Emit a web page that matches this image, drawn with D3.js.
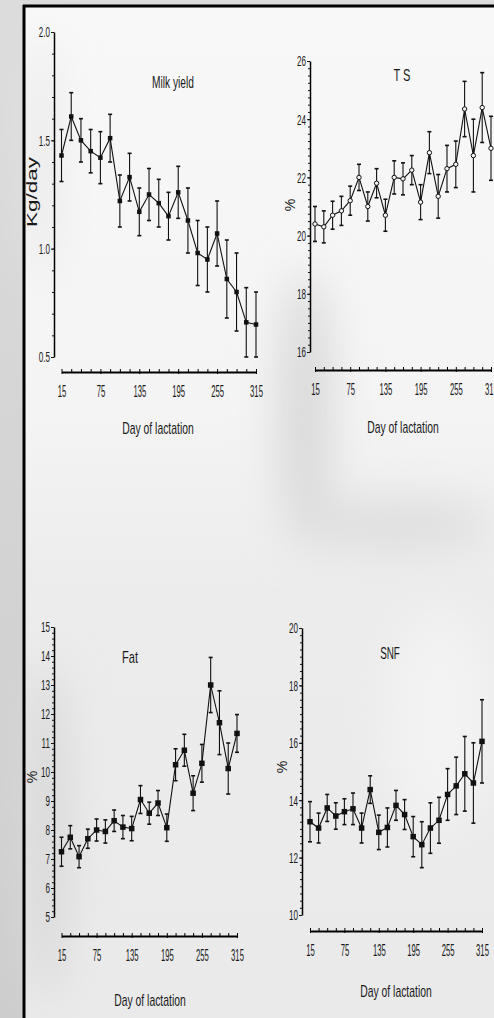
<!DOCTYPE html>
<html><head><meta charset="utf-8">
<script src="https://cdn.jsdelivr.net/npm/d3@7/dist/d3.min.js"></script>
<style>
html,body{margin:0;padding:0;background:#e8e8e8;}
svg{display:block;}
.tl{font-family:"Liberation Sans",Arial,sans-serif;fill:#1a1a1a;}
.ttl{font-family:"Liberation Sans",Arial,sans-serif;font-size:17px;fill:#1a1a1a;}
.yl{font-family:"Liberation Sans",Arial,sans-serif;fill:#1a1a1a;}
</style></head>
<body>
<script>
// ---------- data ----------
const days = [15,30,45,60,75,90,105,120,135,150,165,180,195,210,225,240,255,270,285,300,315];
const xTickLabels = [15,75,135,195,255,315];

const milkMean = [1.43,1.61,1.50,1.45,1.42,1.51,1.22,1.33,1.17,1.25,1.21,1.15,1.26,1.13,0.98,0.95,1.07,0.86,0.80,0.66,0.65];
const milkSE   = [0.12,0.11,0.10,0.10,0.12,0.11,0.12,0.11,0.11,0.12,0.11,0.11,0.12,0.15,0.15,0.15,0.15,0.18,0.18,0.16,0.15];
const milkTicks = [0.5,1.0,1.5,2.0];

const tsMean = [20.4,20.3,20.7,20.85,21.2,22.0,21.0,21.8,20.7,22.0,21.95,22.25,21.15,22.85,21.35,22.3,22.45,24.35,22.75,24.4,23.0];
const tsSE   = [0.6,0.55,0.48,0.5,0.5,0.45,0.5,0.5,0.55,0.57,0.55,0.5,0.6,0.72,0.75,0.8,0.8,0.95,1.25,1.2,1.1];
const tsTicks = [16,18,20,22,24,26];

const fatMean = [7.25,7.75,7.08,7.7,8.0,7.95,8.32,8.1,8.05,9.05,8.58,8.93,8.08,10.25,10.75,9.27,10.3,13.0,11.7,10.12,11.33];
const fatSE   = [0.5,0.4,0.38,0.33,0.38,0.4,0.37,0.4,0.42,0.48,0.38,0.43,0.47,0.55,0.55,0.6,0.65,0.95,1.1,0.88,0.65];
const fatTicks = [5,6,7,8,9,10,11,12,13,14,15];

const snfMean = [13.25,13.03,13.73,13.45,13.6,13.7,13.03,14.37,12.88,13.05,13.82,13.5,12.73,12.45,13.03,13.3,14.2,14.5,14.92,14.6,16.05];
const snfSE   = [0.7,0.52,0.47,0.46,0.45,0.55,0.52,0.48,0.6,0.68,0.52,0.52,0.7,0.8,0.88,0.8,0.9,1.0,1.3,1.4,1.45];
const snfTicks = [10,12,14,16,18,20];

const W = 494, H = 1018;
const svg = d3.select("body").append("svg").attr("width", W).attr("height", H);

// horizontally condense a text element (narrow font look)
function squeeze(sel, f){
  sel.each(function(){
    const w = this.getComputedTextLength();
    d3.select(this).attr("textLength", w*f).attr("lengthAdjust","spacingAndGlyphs");
  });
}

// ---------- background ----------
const defs = svg.append("defs");
defs.append("filter").attr("id","blur").attr("x","-50%").attr("y","-50%").attr("width","200%").attr("height","200%")
  .append("feGaussianBlur").attr("stdDeviation", 22);
const lg = defs.append("linearGradient").attr("id","leftg").attr("x1",0).attr("y1",0).attr("x2",0).attr("y2",1);
lg.append("stop").attr("offset","0%").attr("stop-color","#dcdcdc");
lg.append("stop").attr("offset","50%").attr("stop-color","#d4d4d4");
lg.append("stop").attr("offset","100%").attr("stop-color","#cdcdcd");
const mg = defs.append("linearGradient").attr("id","maing").attr("x1",0).attr("y1",0).attr("x2",0).attr("y2",1);
mg.append("stop").attr("offset","0%").attr("stop-color","#f8f8f8");
mg.append("stop").attr("offset","40%").attr("stop-color","#f4f4f4");
mg.append("stop").attr("offset","58%").attr("stop-color","#ececec");
mg.append("stop").attr("offset","100%").attr("stop-color","#eaeaea");

svg.append("rect").attr("width",W).attr("height",H).attr("fill","url(#leftg)");
svg.append("rect").attr("x",24).attr("y",6).attr("width",W-24).attr("height",H-6).attr("fill","url(#maing)");
const bg = svg.append("g").attr("filter","url(#blur)");
bg.append("ellipse").attr("cx",305).attr("cy",410).attr("rx",26).attr("ry",140).attr("fill","#d8d8d8");
bg.append("ellipse").attr("cx",395).attr("cy",525).attr("rx",100).attr("ry",26).attr("fill","#dedede");
bg.append("ellipse").attr("cx",45).attr("cy",830).attr("rx",24).attr("ry",170).attr("fill","#d8d8d8");
bg.append("ellipse").attr("cx",440).attr("cy",720).attr("rx",55).attr("ry",110).attr("fill","#f3f3f3");
bg.append("ellipse").attr("cx",40).attr("cy",160).attr("rx",14).attr("ry",120).attr("fill","#e6e6e6");
// frame
svg.append("line").attr("x1",24).attr("x2",24).attr("y1",5).attr("y2",H).attr("stroke","#000").attr("stroke-width",3);
svg.append("line").attr("x1",23).attr("x2",W).attr("y1",6).attr("y2",6).attr("stroke","#000").attr("stroke-width",3);

// ---------- panels ----------
function panel(c){
  const g = svg.append("g");
  const x = d3.scaleLinear().domain([15,315]).range(c.xr);
  const y = d3.scaleLinear().domain(c.yd).range(c.yr);

  // y axis
  const yMinor = g.append("g").attr("transform",`translate(${c.ax},0)`)
    .call(d3.axisLeft(y).tickValues(c.minor).tickSize(2).tickSizeOuter(0).tickFormat(""));
  yMinor.select(".domain").attr("stroke-width",1.5);
  const yAx = g.append("g").attr("transform",`translate(${c.ax},0)`)
    .call(d3.axisLeft(y).tickValues(c.yticks).tickSize(3).tickSizeOuter(0).tickFormat(c.fmt));
  yAx.select(".domain").remove();
  yAx.selectAll("text").attr("class","tl").attr("x",-4).attr("font-size",null).attr("font-family",null)
    .style("font-size","15px").call(squeeze,0.54);
  g.selectAll(".tick line").attr("stroke","#111");

  // x axis
  const xMinor = g.append("g").attr("transform",`translate(0,${c.ay})`)
    .call(d3.axisTop(x).tickValues(days).tickSize(3).tickSizeOuter(0).tickFormat(""));
  xMinor.select(".domain").attr("stroke-width",2.2);
  const xAx = g.append("g").attr("transform",`translate(0,${c.ay})`)
    .call(d3.axisBottom(x).tickValues(xTickLabels).tickSize(2).tickSizeOuter(0));
  xAx.select(".domain").remove();
  xAx.selectAll("text").attr("class","tl").attr("y",19).attr("dy","0.36em").attr("font-size",null).attr("font-family",null)
    .style("font-size","16px").call(squeeze,0.48);

  // labels
  g.append("text").attr("class","ttl").attr("x",c.title[1]).attr("y",c.title[2]).attr("text-anchor","middle")
    .attr("dy","0.36em").text(c.title[0]).call(squeeze,c.title[3]);
  g.append("text").attr("class","ttl").attr("x",c.xl[0]).attr("y",c.xl[1]).attr("text-anchor","middle")
    .attr("dy","0.36em").text("Day of lactation").call(squeeze,0.61);
  const yl = g.append("text").attr("class","yl").attr("transform",`translate(${c.yl[1]},${c.yl[2]}) rotate(-90)`)
    .attr("text-anchor","middle").attr("dy","0.36em").style("font-size",c.yl[3]+"px").text(c.yl[0]);
  if(c.yl[4]) yl.attr("textLength",c.yl[4]).attr("lengthAdjust","spacingAndGlyphs");

  const data = days.map((d,i)=>({d, m:c.mean[i], s:c.se[i]}));
  // line
  g.append("path").datum(data).attr("fill","none").attr("stroke","#111").attr("stroke-width",1.1)
    .attr("d", d3.line().x(d=>x(d.d)).y(d=>y(d.m)));
  // error bars
  const eb = g.append("g").attr("stroke","#111").attr("stroke-width",1.1);
  eb.selectAll("line.v").data(data).join("line").attr("class","v")
    .attr("x1",d=>x(d.d)).attr("x2",d=>x(d.d)).attr("y1",d=>y(d.m-d.s)).attr("y2",d=>y(d.m+d.s));
  eb.selectAll("line.t").data(data).join("line").attr("class","t")
    .attr("x1",d=>x(d.d)-2).attr("x2",d=>x(d.d)+2).attr("y1",d=>y(d.m+d.s)).attr("y2",d=>y(d.m+d.s)).attr("stroke-width",1.6);
  eb.selectAll("line.b").data(data).join("line").attr("class","b")
    .attr("x1",d=>x(d.d)-2).attr("x2",d=>x(d.d)+2).attr("y1",d=>y(d.m-d.s)).attr("y2",d=>y(d.m-d.s)).attr("stroke-width",1.6);
  // markers
  if(c.marker==="circle"){
    g.selectAll("circle.m").data(data).join("circle").attr("class","m")
      .attr("cx",d=>x(d.d)).attr("cy",d=>y(d.m)).attr("r",2.2).attr("fill","#f4f4f4").attr("stroke","#111").attr("stroke-width",1);
  } else {
    const s = c.msize;
    g.selectAll("rect.m").data(data).join("rect").attr("class","m")
      .attr("x",d=>x(d.d)-s/2).attr("y",d=>y(d.m)-s/2).attr("width",s).attr("height",s).attr("fill","#111");
  }
}

panel({mean:milkMean, se:milkSE, yd:[0.5,2.0], yr:[357,32], xr:[61.5,256], ax:54, ay:372,
  yticks:milkTicks, minor:d3.range(0.5,2.001,0.1), fmt:d3.format(".1f"),
  title:["Milk yield",173,82,0.6], xl:[158,428], yl:["Kg/day",32,192,15,70], marker:"square", msize:4.5});

panel({mean:tsMean, se:tsSE, yd:[16,26], yr:[352,61], xr:[315,491], ax:310, ay:370,
  yticks:tsTicks, minor:d3.range(16,26.001,0.25), fmt:d3.format("d"),
  title:["T S",402,75,0.65], xl:[403,427], yl:["%",290,205,14], marker:"circle"});

panel({mean:fatMean, se:fatSE, yd:[5,15], yr:[917,627], xr:[61.5,237], ax:54, ay:936,
  yticks:fatTicks, minor:d3.range(5,15.001,0.2), fmt:d3.format("d"),
  title:["Fat",130,657,0.65], xl:[150,1000], yl:["%",32,777,14], marker:"square", msize:5.5});

panel({mean:snfMean, se:snfSE, yd:[10,20], yr:[915,628], xr:[310,482], ax:302, ay:931,
  yticks:snfTicks, minor:d3.range(10,20.001,0.25), fmt:d3.format("d"),
  title:["SNF",390,653,0.58], xl:[396,991], yl:["%",282,767,14], marker:"square", msize:5.5});
</script>
</body></html>
